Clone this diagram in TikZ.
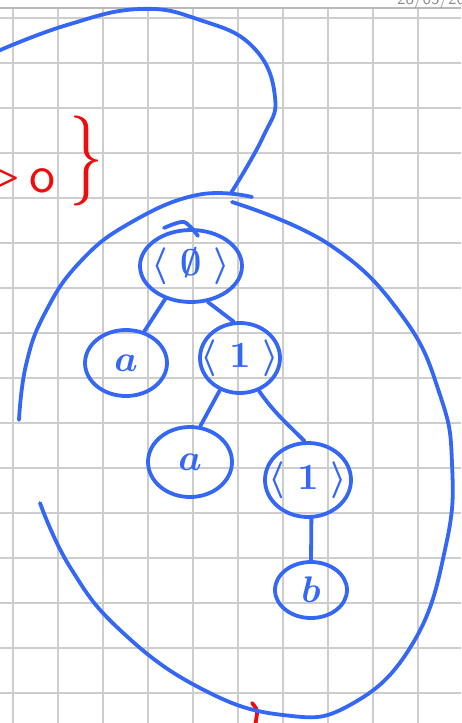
\documentclass[tikz,border=0pt]{standalone}
\usetikzlibrary{shapes.geometric}
\definecolor{ink}{RGB}{52,103,246}
\definecolor{redink}{RGB}{240,12,12}
\definecolor{gridgray}{RGB}{205,205,205}
\definecolor{rulegray}{RGB}{185,185,185}
\definecolor{dategray}{RGB}{140,140,140}
% label text, enlarged and centred on its math axis, taking no room in the node
\newcommand\inside[2]{\makebox[0pt]{\raisebox{-#1pt}[0pt][0pt]{\scalebox{3.7}{\boldmath#2}}}}
\begin{document}
\begin{tikzpicture}[x=1pt,y=-1pt,
  pen/.style={draw=ink,line width=3.8pt,line cap=round,line join=round},
  redpen/.style={draw=redink,line width=3.8pt,line cap=round,line join=round},
  tnode/.style={ellipse,pen,inner sep=0pt,text=ink},
  gridline/.style={draw=gridgray,line width=1.6pt},
  redtext/.style={text=redink,inner sep=0pt},
  stroke/.style={pen,smooth,tension=0.75}]
\useasboundingbox (0,0) rectangle (461,723);
\clip (0,0) rectangle (461,723);
\fill[white] (0,0) rectangle (461,723);

% squared paper
\foreach \gx in {13,58,...,418} \draw[gridline] (\gx,8) -- (\gx,723);
\foreach \gy in {18,63,...,693} \draw[gridline] (0,\gy) -- (461,\gy);
\draw[rulegray,line width=1.6pt] (0,8) -- (461,8);
\node[anchor=base west,text=dategray,inner sep=0pt] (date) at (397,4) {\scalebox{1.7}{\sffamily 28/05/20}};

% red fragment on the left
\node[redtext] (gt) at (3,178) {\scalebox{4}{\boldmath$>$}};
\node[redtext] (oh) at (42,181) {\scalebox{5.2}{\sffamily o}};
\node[redtext] (brace) at (86,161) {\scalebox{6.8}[9]{$\}$}};
\draw[redpen] plot[smooth] coordinates {(252,703) (257,711) (255,726)};

% tree
\node[tnode,minimum width=102pt,minimum height=72pt] (root) at (191,266) {\inside{9}{$\langle\;\emptyset\;\rangle$}};
\node[tnode,minimum width=82pt,minimum height=66pt] (a1) at (126,363) {\inside{8}{$a$}};
\node[tnode,minimum width=80pt,minimum height=70pt] (m1) at (240,358) {\inside{9}{$\langle\;1\;\rangle$}};
\node[tnode,minimum width=84pt,minimum height=70pt] (a2) at (190,462) {\inside{8}{$a$}};
\node[tnode,minimum width=86pt,minimum height=74pt] (m2) at (308,480) {\inside{9}{$\langle\;1\;\rangle$}};
\node[tnode,minimum width=72pt,minimum height=56pt] (b) at (311,590) {\inside{12}{$b$}};
\draw[pen] plot[smooth] coordinates {(164,228) (184,222) (198,236)};

\draw[pen] (root.-128) -- (a1.60);
\draw[pen] (root.-65) -- (m1.100);
\draw[pen] (m1.-122) -- (a2.74);
\draw[pen] (m1.-60) to[out=-55,in=135] (m2.95);
\draw[pen] (m2.-85) -- (b.90);

% enclosing strokes
\draw[stroke] plot coordinates {(-2,51) (67,25) (140,9) (200,20) (253,47) (275,97) (263,137) (231,193)};
\draw[stroke] plot coordinates {(19,420) (26,365) (45,313) (80,262) (130,223) (197,195) (252,197)};
\draw[stroke] plot coordinates {(232,202) (330,245) (403,317) (440,395) (452,463) (446,545) (413,643) (350,705) (283,715) (200,688) (120,630) (70,567) (40,503)};
\end{tikzpicture}
\end{document}
